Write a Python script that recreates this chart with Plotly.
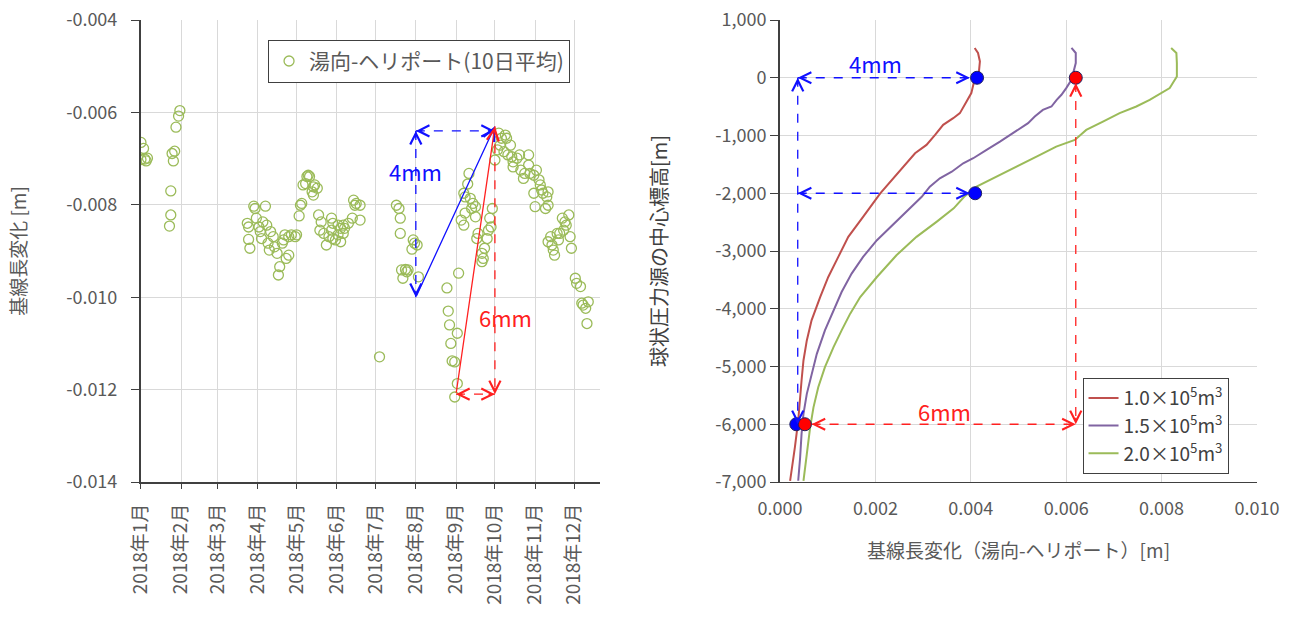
import plotly.graph_objects as go
import pandas as pd

# ---------------- left chart data (day index from 2018-01-01, baseline change [m]) ----------------
days_2018 = [
    0, 2, 0, 3, 5, 4, 30, 29, 27, 26, 24, 25, 23, 23, 22,
    82, 83, 83, 84, 87, 88, 96, 89, 91, 92, 93, 94, 97, 98, 100, 99, 102, 103, 105,
    109, 111, 114, 116, 119, 120, 114, 112, 107, 106, 110,
    122, 123, 124, 125, 127, 129, 128, 130, 132, 133, 134, 136, 133,
    137, 139, 138, 141, 143, 145, 147, 148, 150, 152, 154, 156, 157, 160, 163, 169,
    152, 154, 156, 148, 147, 164, 166, 169, 165,
    184, 197, 199, 200, 200, 210, 211, 209, 213, 201, 204, 206, 202, 205, 214,
    236, 237, 238, 244, 239, 240, 242, 244, 242, 245,
    253, 252, 250, 249, 254, 256, 255, 258, 250, 247, 249, 258, 271, 269, 270,
    260, 259, 267, 268, 265, 263, 264, 263, 273,
    276, 278, 281, 282, 277, 275, 280, 285, 283, 286, 290, 287, 292, 299, 287,
    293, 296, 295, 299, 300, 303, 305, 307, 308, 309, 310, 313, 314, 303, 304,
    312, 314, 325, 327, 330, 328, 326, 323, 321, 316, 314, 317, 318, 319, 322,
    331, 332, 335, 336, 339, 341, 343, 345, 344, 340,
]
baseline_change = [
    -0.00665, -0.00678, -0.00702, -0.00701, -0.00699, -0.00705, -0.00596, -0.00608, -0.00632,
    -0.00684, -0.00689, -0.00705, -0.00770, -0.00822, -0.00846,
    -0.00840, -0.00848, -0.00875, -0.00894, -0.00803, -0.00808, -0.00803, -0.00829, -0.00848,
    -0.00858, -0.00873, -0.00837, -0.00844, -0.00883, -0.00858, -0.00898, -0.00869, -0.00891,
    -0.00905,
    -0.00883, -0.00865, -0.00869, -0.00865, -0.00869, -0.00865, -0.00909, -0.00916, -0.00934,
    -0.00952, -0.00876,
    -0.00824, -0.00801, -0.00797, -0.00757, -0.00754, -0.00736, -0.00739, -0.00739, -0.00772,
    -0.00761, -0.00757, -0.00764, -0.00779,
    -0.00822, -0.00837, -0.00855, -0.00862, -0.00887, -0.00869, -0.00829, -0.00840, -0.00876,
    -0.00844, -0.00851, -0.00844, -0.00851, -0.00840, -0.00829, -0.00833,
    -0.00865, -0.00880, -0.00862, -0.00873, -0.00855, -0.00790, -0.00797, -0.00801, -0.00801,
    -0.01129, -0.00801, -0.00808, -0.00829, -0.00862, -0.00876, -0.00883, -0.00896, -0.00887,
    -0.00941, -0.00940, -0.00941, -0.00959, -0.00945, -0.00956,
    -0.00980, -0.01030, -0.01060, -0.01078, -0.01100, -0.01138, -0.01140, -0.01187, -0.01216,
    -0.00948,
    -0.00732, -0.00755, -0.00783, -0.00775, -0.00786, -0.00797, -0.00808, -0.00804, -0.00818,
    -0.00833, -0.00844, -0.00826, -0.00808, -0.00829, -0.00848,
    -0.00862, -0.00873, -0.00873, -0.00855, -0.00894, -0.00905, -0.00916, -0.00923, -0.00703,
    -0.00645, -0.00656, -0.00649, -0.00656, -0.00671, -0.00681, -0.00685, -0.00671, -0.00692,
    -0.00696, -0.00699, -0.00707, -0.00692, -0.00692, -0.00718,
    -0.00725, -0.00732, -0.00743, -0.00714, -0.00732, -0.00736, -0.00725, -0.00746, -0.00757,
    -0.00768, -0.00775, -0.00783, -0.00772, -0.00775, -0.00804,
    -0.00808, -0.00801, -0.00829, -0.00837, -0.00822, -0.00844, -0.00855, -0.00862, -0.00862,
    -0.00869, -0.00880, -0.00887, -0.00898, -0.00909, -0.00876,
    -0.00869, -0.00894, -0.00959, -0.00970, -0.00977, -0.01017, -0.01024, -0.01010, -0.01057,
    -0.01013,
]
month_starts = ["2018-%02d-01" % m for m in range(1, 13)]
month_labels = ["2018年%d月" % m for m in range(1, 13)]
left_yticks = [-0.004, -0.006, -0.008, -0.010, -0.012, -0.014]
left_ytext = ["-0.004", "-0.006", "-0.008", "-0.010", "-0.012", "-0.014"]

# ---------------- right chart data (baseline change [m] vs source depth [m]) ----------------
red_x = [0.00408, 0.00415, 0.00419, 0.00417, 0.00406, 0.00401, 0.00391, 0.00377, 0.00363, 0.00342,
         0.00325, 0.00307, 0.00283, 0.00265, 0.00241, 0.00210, 0.00174, 0.00143, 0.00122, 0.00101,
         0.00084, 0.00066, 0.00056, 0.00049, 0.00045, 0.00042, 0.00038, 0.00031, 0.00021]
red_y = [516, 429, 283, 109, -92, -266, -411, -613, -700, -816, -990, -1163, -1307, -1481, -1714,
         -2002, -2408, -2755, -3102, -3450, -3797, -4201, -4549, -4896, -5243, -5590, -5938, -6401,
         -6979]
purple_x = [0.00611, 0.0062, 0.0062, 0.00611, 0.0060, 0.0059, 0.0058, 0.00569, 0.00551, 0.00534,
            0.0052, 0.00499, 0.00482, 0.00461, 0.00433, 0.00405, 0.00384, 0.0036, 0.00335, 0.00314,
            0.00297, 0.00272, 0.00241, 0.00203, 0.00174, 0.0015, 0.00129, 0.00112, 0.00094, 0.00077,
            0.00066, 0.00056, 0.00049, 0.00045, 0.00042, 0.00038]
purple_y = [516, 429, 255, -35, -179, -295, -382, -498, -556, -672, -786, -903, -990, -1106, -1250,
            -1394, -1481, -1627, -1741, -1887, -2061, -2262, -2495, -2813, -3102, -3391, -3710,
            -4028, -4375, -4780, -5127, -5474, -5821, -6168, -6575, -6979]
green_x = [0.0082, 0.00831, 0.00832, 0.00832, 0.00817, 0.00799, 0.00775, 0.00747, 0.00712, 0.00677,
           0.00642, 0.00618, 0.00579, 0.00545, 0.0051, 0.00475, 0.0044, 0.00412, 0.00386, 0.00364,
           0.00328, 0.00286, 0.00244, 0.00203, 0.00168, 0.00147, 0.00129, 0.00112, 0.00094, 0.0008,
           0.0007, 0.00063, 0.00056, 0.00049]
green_y = [516, 429, 255, 23, -179, -266, -382, -498, -613, -759, -903, -1076, -1193, -1337, -1481,
           -1627, -1771, -1887, -2061, -2262, -2495, -2755, -3073, -3450, -3797, -4085, -4375,
           -4665, -5012, -5359, -5707, -6054, -6516, -6979]
series_names = ["1.0×10<sup>5</sup>m<sup>3</sup>", "1.5×10<sup>5</sup>m<sup>3</sup>",
                "2.0×10<sup>5</sup>m<sup>3</sup>"]
dot_x = [0.00413, 0.0062, 0.00409, 0.00034, 0.00052]
dot_y = [0, 0, -2000, -6000, -6000]
dot_colors = ["#0000ff", "#ff0000", "#0000ff", "#0000ff", "#ff0000"]
right_xticks = [0, 0.002, 0.004, 0.006, 0.008, 0.010]
right_xtext = ["0.000", "0.002", "0.004", "0.006", "0.008", "0.010"]
right_yticks = [1000, 0, -1000, -2000, -3000, -4000, -5000, -6000, -7000]
right_ytext = ["1,000", "0", "-1,000", "-2,000", "-3,000", "-4,000", "-5,000", "-6,000", "-7,000"]

# ---------------- annotation geometry ----------------
L_AUG, L_SEP, L_OCT = "2018-08-01", "2018-09-01", "2018-10-01"
L_TOP, L_HTOP, L_BLUE_BOT, L_RED_BOT = -0.0063, -0.0064, -0.0100, -0.0121
R_XL, R_XB, R_XR, R_XRL = 0.00037, 0.00398, 0.0062, 0.00066

FONT = "Noto Sans CJK JP"
GRID = "#d9d9d9"
AXC = "#404040"
TXT = "#595959"
BLUE = "#1010ff"
RED = "#ff2020"

dates = pd.Timestamp("2018-01-01") + pd.to_timedelta(days_2018, unit="D")

fig = go.Figure()
fig.add_trace(go.Scatter(
    x=dates, y=baseline_change, mode="markers", name="湯向-ヘリポート(10日平均)",
    marker=dict(symbol="circle-open", size=10, color="#9bbb59", line=dict(width=1.3)),
    xaxis="x", yaxis="y", legend="legend"))

# left dashed guides
fig.add_trace(go.Scatter(
    x=[L_AUG, L_OCT, None, L_AUG, L_AUG], y=[L_HTOP, L_HTOP, None, L_HTOP, L_BLUE_BOT],
    mode="lines", line=dict(color=BLUE, width=1.3, dash="dash"), showlegend=False,
    hoverinfo="skip", xaxis="x", yaxis="y"))
fig.add_trace(go.Scatter(
    x=[L_OCT, L_OCT, None, L_SEP, L_OCT], y=[L_TOP, L_RED_BOT, None, L_RED_BOT, L_RED_BOT],
    mode="lines", line=dict(color=RED, width=1.3, dash="dash"), showlegend=False,
    hoverinfo="skip", xaxis="x", yaxis="y"))

# right curves
for xs, ys, nm, col in [(red_x, red_y, series_names[0], "#c0504d"),
                        (purple_x, purple_y, series_names[1], "#8064a2"),
                        (green_x, green_y, series_names[2], "#9bbb59")]:
    fig.add_trace(go.Scatter(x=xs, y=ys, mode="lines", name=nm,
                             line=dict(color=col, width=2), xaxis="x2", yaxis="y2",
                             legend="legend2"))

# right dashed guides
fig.add_trace(go.Scatter(
    x=[R_XL, R_XB, None, R_XL, R_XL, None, R_XL, R_XB],
    y=[0, 0, None, 0, -6000, None, -2000, -2000],
    mode="lines", line=dict(color=BLUE, width=1.3, dash="dash"), showlegend=False,
    hoverinfo="skip", xaxis="x2", yaxis="y2"))
fig.add_trace(go.Scatter(
    x=[R_XR, R_XR, None, R_XRL, R_XR], y=[-90, -6000, None, -6000, -6000],
    mode="lines", line=dict(color=RED, width=1.3, dash="dash"), showlegend=False,
    hoverinfo="skip", xaxis="x2", yaxis="y2"))

fig.add_trace(go.Scatter(
    x=dot_x, y=dot_y, mode="markers", showlegend=False, hoverinfo="skip",
    marker=dict(size=13, color=dot_colors, line=dict(color="#202060", width=1)),
    xaxis="x2", yaxis="y2"))


def head(xr, yr, x, y, d, color):
    off = {"right": (-8, 0), "left": (8, 0), "up": (0, 8), "down": (0, -8)}[d]
    return dict(x=x, y=y, xref=xr, yref=yr, ax=off[0], ay=off[1], text="", showarrow=True,
                arrowhead=5, arrowsize=2.0, arrowwidth=1.1, arrowcolor=color)


anns = []
# left heads
anns += [head("x", "y", L_OCT, L_HTOP, "right", BLUE), head("x", "y", L_AUG, L_HTOP, "left", BLUE),
         head("x", "y", L_AUG, L_HTOP, "up", BLUE), head("x", "y", L_AUG, L_BLUE_BOT, "down", BLUE),
         head("x", "y", L_OCT, L_RED_BOT, "down", RED), head("x", "y", L_OCT, L_RED_BOT, "right", RED),
         head("x", "y", L_SEP, L_RED_BOT, "left", RED)]
anns += [dict(x=L_OCT, y=L_TOP, xref="x", yref="y", ax=L_AUG, ay=L_BLUE_BOT, axref="x", ayref="y",
              text="", showarrow=True, arrowhead=5, arrowsize=1.8, arrowwidth=1.3, arrowcolor=BLUE),
         dict(x=L_OCT, y=L_TOP, xref="x", yref="y", ax=L_SEP, ay=L_RED_BOT, axref="x", ayref="y",
              text="", showarrow=True, arrowhead=5, arrowsize=1.8, arrowwidth=1.3, arrowcolor=RED)]
anns += [dict(x=L_AUG, y=-0.00727, xref="x", yref="y", text="4mm", showarrow=False,
              font=dict(family=FONT, size=22, color=BLUE)),
         dict(x="2018-10-09", y=-0.01042, xref="x", yref="y", text="6mm", showarrow=False,
              font=dict(family=FONT, size=22, color=RED))]
# right heads
anns += [head("x2", "y2", R_XB, 0, "right", BLUE), head("x2", "y2", R_XL, 0, "left", BLUE),
         head("x2", "y2", R_XL, 0, "up", BLUE), head("x2", "y2", R_XL, -6000, "down", BLUE),
         head("x2", "y2", R_XB, -2000, "right", BLUE), head("x2", "y2", R_XL, -2000, "left", BLUE),
         head("x2", "y2", R_XR, -90, "up", RED), head("x2", "y2", R_XR, -6000, "down", RED),
         head("x2", "y2", R_XR, -6000, "right", RED), head("x2", "y2", R_XRL, -6000, "left", RED)]
anns += [dict(x=0.002, y=260, xref="x2", yref="y2", text="4mm", showarrow=False,
              font=dict(family=FONT, size=22, color=BLUE)),
         dict(x=0.00344, y=-5764, xref="x2", yref="y2", text="6mm", showarrow=False,
              font=dict(family=FONT, size=22, color=RED))]

fig.update_layout(
    width=1298, height=617, margin=dict(l=0, r=0, t=20, b=135),
    paper_bgcolor="white", plot_bgcolor="white",
    font=dict(family=FONT, size=18, color=TXT),
    annotations=anns,
    xaxis=dict(domain=[0.1086, 0.4622], anchor="y", type="date",
               range=["2018-01-01", "2018-12-21"], tickvals=month_starts, ticktext=month_labels,
               tickangle=-90, tickfont=dict(size=19, color=TXT), ticklabelstandoff=7,
               showgrid=True, gridcolor=GRID,
               showline=True, linecolor=AXC, linewidth=2, ticks="outside", ticklen=5,
               tickcolor=AXC, zeroline=False, automargin=False),
    yaxis=dict(domain=[0, 1], anchor="x", range=[-0.014, -0.004], tickvals=left_yticks,
               ticktext=left_ytext, tickfont=dict(size=18, color=TXT), ticklabelstandoff=10,
               showgrid=True,
               gridcolor=GRID, showline=True, linecolor=AXC, linewidth=2, ticks="outside",
               ticklen=8, tickcolor=AXC, zeroline=False, automargin=False,
               title=dict(text="基線長変化 [m]", font=dict(size=19, color=TXT), standoff=34)),
    xaxis2=dict(domain=[0.601, 0.9684], anchor="y2", range=[0, 0.010], tickvals=right_xticks,
                ticktext=right_xtext, tickfont=dict(size=18, color=TXT), ticklabelstandoff=10,
                showgrid=True,
                gridcolor=GRID, showline=True, linecolor=AXC, linewidth=1, ticks="",
                zeroline=False, automargin=False,
                title=dict(text="基線長変化（湯向-ヘリポート）[m]", font=dict(size=19, color=TXT),
                           standoff=26)),
    yaxis2=dict(domain=[0, 1], anchor="x2", range=[-7000, 1000], tickvals=right_yticks,
                ticktext=right_ytext, tickfont=dict(size=18, color=TXT), showgrid=True,
                gridcolor=GRID, showline=True, linecolor=AXC, linewidth=2, ticks="outside",
                ticklen=8, tickcolor=AXC, zeroline=False, automargin=False,
                title=dict(text="球状圧力源の中心標高[m]", font=dict(size=20, color="#404040"),
                           standoff=42)),
    legend=dict(x=0.2065, y=0.957, xanchor="left", yanchor="top", bgcolor="white",
                bordercolor=AXC, borderwidth=1, font=dict(size=21, color=TXT)),
    legend2=dict(x=0.834, y=0.225, xanchor="left", yanchor="top", bgcolor="white",
                 bordercolor=AXC, borderwidth=1, font=dict(size=19, color="#404040"),
                 itemwidth=30, tracegroupgap=0),
)

fig.write_html("out.html")
